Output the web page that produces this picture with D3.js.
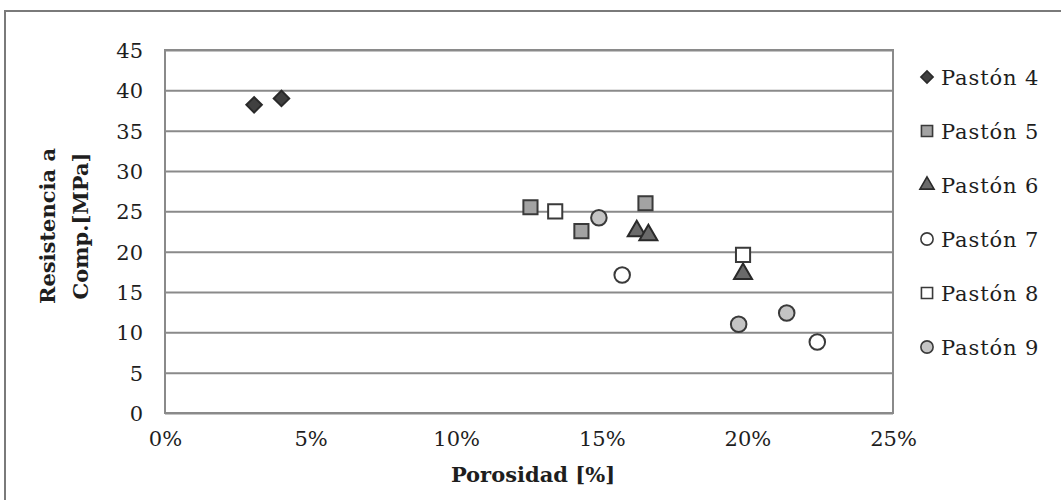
<!DOCTYPE html>
<html>
<head>
<meta charset="utf-8">
<script src="https://cdn.jsdelivr.net/npm/d3@7"></script>
<style>
  html, body { margin: 0; padding: 0; background: #fff; }
  svg { display: block; }
  text { font-family: "DejaVu Serif", serif; fill: #1e1e1e; }
</style>
</head>
<body>
<svg id="chart" width="1061" height="500"></svg>
<script>
// ---- data ----
const seriesNames = ["Pastón 4", "Pastón 5", "Pastón 6", "Pastón 7", "Pastón 8", "Pastón 9"];
const porosidad4 = [0.0306, 0.0400];
const resistencia4 = [38.2, 39.0];
const porosidad5 = [0.1255, 0.1430, 0.1650];
const resistencia5 = [25.5, 22.55, 26.0];
const porosidad6 = [0.1620, 0.1660, 0.1985];
const resistencia6 = [22.55, 22.05, 17.25];
const porosidad7 = [0.1570, 0.2240];
const resistencia7 = [17.1, 8.8];
const porosidad8 = [0.1340, 0.1985];
const resistencia8 = [25.0, 19.6];
const porosidad9 = [0.1490, 0.1970, 0.2135];
const resistencia9 = [24.2, 11.0, 12.4];
const yTicks = [0, 5, 10, 15, 20, 25, 30, 35, 40, 45];
const xTicks = [0, 0.05, 0.10, 0.15, 0.20, 0.25];
const xTitle = "Porosidad [%]";
const yTitleLines = ["Resistencia a", "Comp.[MPa]"];

// ---- styles (kept separate from data) ----
const markerStyles = [
  { shape: "diamond",  fill: "#404040", stroke: "#2a2a2a" },
  { shape: "square",   fill: "#a3a3a3", stroke: "#3a3a3a" },
  { shape: "triangle", fill: "#6a6a6a", stroke: "#2a2a2a" },
  { shape: "circle",   fill: "#ffffff", stroke: "#3a3a3a" },
  { shape: "square",   fill: "#ffffff", stroke: "#3a3a3a" },
  { shape: "circle",   fill: "#c4c4c4", stroke: "#3a3a3a" }
];
const seriesX = [porosidad4, porosidad5, porosidad6, porosidad7, porosidad8, porosidad9];
const seriesY = [resistencia4, resistencia5, resistencia6, resistencia7, resistencia8, resistencia9];

const svg = d3.select("#chart");

// outer frame (runs off right/bottom edges)
svg.append("rect")
  .attr("x", 5).attr("y", 11).attr("width", 1120).attr("height", 600)
  .attr("fill", "#fff").attr("stroke", "#7a7a7a").attr("stroke-width", 2);

const plot = { left: 165, top: 50, right: 893, bottom: 413 };
const x = d3.scaleLinear().domain([0, 0.25]).range([plot.left, plot.right]);
const y = d3.scaleLinear().domain([0, 45]).range([plot.bottom, plot.top]);

// gridlines + y labels
const yAxis = svg.append("g")
  .attr("transform", `translate(${plot.left},0)`)
  .call(d3.axisLeft(y).tickValues(yTicks).tickSize(-(plot.right - plot.left)).tickPadding(22).tickFormat(d3.format("d")));
yAxis.select(".domain").remove();
yAxis.selectAll(".tick line").attr("stroke", "#8a8a8a").attr("stroke-width", 2);
yAxis.selectAll(".tick text")
  .attr("font-family", "DejaVu Serif, serif").attr("font-size", 21).attr("fill", "#1e1e1e")
  .attr("dy", "0.36em");

// plot border
svg.append("rect")
  .attr("x", plot.left).attr("y", plot.top)
  .attr("width", plot.right - plot.left).attr("height", plot.bottom - plot.top)
  .attr("fill", "none").attr("stroke", "#8a8a8a").attr("stroke-width", 2);

// x labels
const xAxis = svg.append("g")
  .attr("transform", `translate(0,${plot.bottom})`)
  .call(d3.axisBottom(x).tickValues(xTicks).tickSize(0).tickPadding(18).tickFormat(d3.format(".0%")));
xAxis.select(".domain").remove();
xAxis.selectAll(".tick text")
  .attr("font-family", "DejaVu Serif, serif").attr("font-size", 21).attr("fill", "#1e1e1e");

// axis titles
svg.append("text")
  .attr("x", (plot.left + plot.right) / 2 + 4).attr("y", 482)
  .attr("text-anchor", "middle").attr("font-size", 21).attr("font-weight", "bold")
  .text(xTitle);

const yt = svg.append("g").attr("transform", "translate(0,226) rotate(-90)");
yt.selectAll("text").data(yTitleLines).join("text")
  .attr("x", 0).attr("y", (d, i) => 55 + i * 33)
  .attr("text-anchor", "middle").attr("font-size", 21).attr("font-weight", "bold")
  .text(d => d);

// markers
function symbolPath(shape, size) {
  const map = {
    diamond: d3.symbolSquare, square: d3.symbolSquare,
    triangle: d3.symbolTriangle, circle: d3.symbolCircle
  };
  return d3.symbol().type(map[shape]).size(size)();
}
const sizes = { diamond: 120, square: 200, triangle: 140, circle: 190 };
const rot = s => (s === "diamond" ? " rotate(45)" : "");

seriesNames.forEach((name, i) => {
  const st = markerStyles[i];
  const pts = seriesX[i].map((v, j) => [v, seriesY[i][j]]);
  svg.append("g").selectAll("path").data(pts).join("path")
    .attr("transform", d => `translate(${x(d[0])},${y(d[1])})${rot(st.shape)}`)
    .attr("d", symbolPath(st.shape, sizes[st.shape]))
    .attr("fill", st.fill).attr("stroke", st.stroke).attr("stroke-width", 2);
});

// legend
const legend = svg.append("g");
seriesNames.forEach((name, i) => {
  const st = markerStyles[i];
  const cy = 77 + i * 54;
  legend.append("path")
    .attr("transform", `translate(927,${cy})${rot(st.shape)}`)
    .attr("d", symbolPath(st.shape, sizes[st.shape] * 0.62))
    .attr("fill", st.fill).attr("stroke", st.stroke).attr("stroke-width", 1.6);
  legend.append("text")
    .attr("x", 941).attr("y", cy + 7.5)
    .attr("font-size", 21).attr("letter-spacing", "0.9px")
    .text(name);
});
</script>
</body>
</html>
